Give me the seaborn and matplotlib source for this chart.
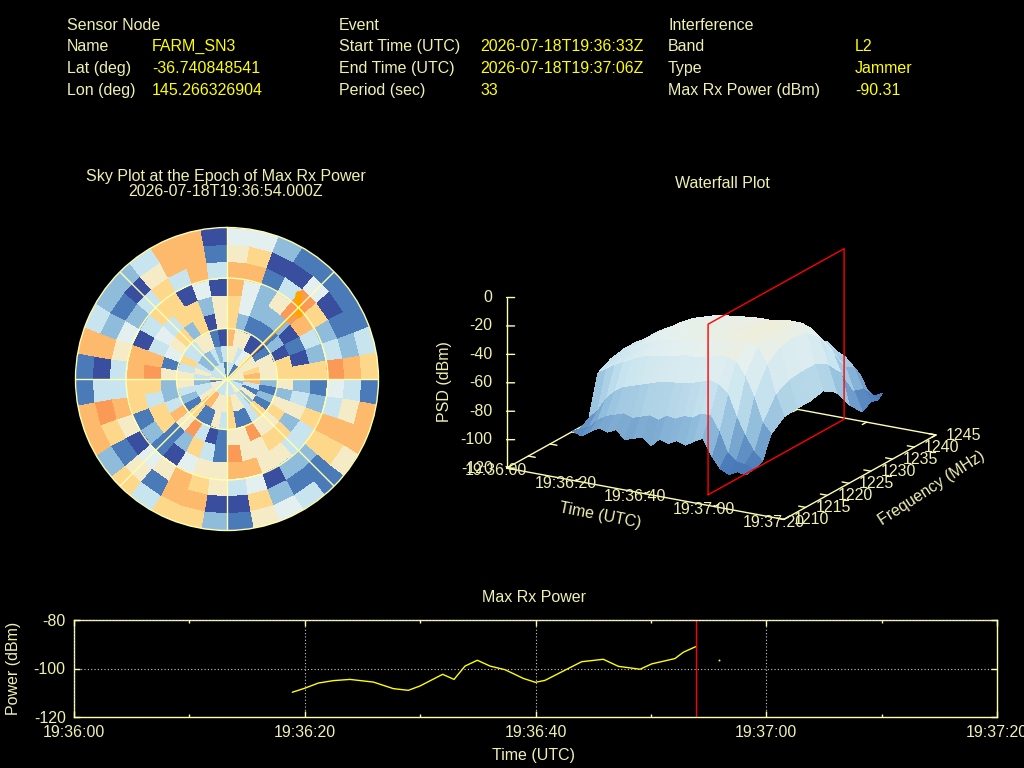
import numpy as np
import seaborn as sns
import matplotlib.pyplot as plt
from matplotlib.colors import Normalize

# Header block
sensor_labels = ['Sensor Node', 'Name', 'Lat (deg)', 'Lon (deg)']
sensor_values = ['', 'FARM_SN3', '-36.740848541', '145.266326904']
event_labels = ['Event', 'Start Time (UTC)', 'End Time (UTC)', 'Period (sec)']
event_values = ['', '2026-07-18T19:36:33Z', '2026-07-18T19:37:06Z', '33']
interf_labels = ['Interference', 'Band', 'Type', 'Max Rx Power (dBm)']
interf_values = ['', 'L2', 'Jammer', '-90.31']

# Sky plot bins, one string per 10 deg sector clockwise from north, centre to rim
sky_rows = [
    '357667754', '355244764', '335122102', '140125301', '150128841', '551207601',
    '555013211', '565602323', '575666876', '372521431', '231232357', '312556777',
    '351623665', '326563211', '533565213', '351855024', '351557465', '366587301',
    '453115502', '355035676', '351364776', '371820513', '376511456', '551762012',
    '432361567', '533236787', '125266331', '535587301', '353177577', '336430423',
    '323543212', '323636302', '325266653', '335660377', '321024777', '130550310',
]
sky_orange_az = [40.4, 42.3, 45.4, 48.2]
sky_orange_r = [6.6, 6.26, 6.0, 5.76]

# Waterfall surface, rows are time (s after 19:36:00), columns are frequency
wf_times = [15, 17.5, 20, 22.5, 25, 27.5, 30, 32.5, 35, 37.5, 40, 42.5, 45, 47.5, 50, 52.5, 55, 57.5, 60, 62.5, 65]
wf_freqs = [1213.3, 1215, 1217, 1219, 1222, 1225, 1228, 1231, 1234, 1237, 1240, 1242, 1243.5, 1244.6]
wf_psd = [
    [-93, -94, -90, -62, -57, -55, -55, -57, -60, -66, -78, -88, -95, -98],
    [-95, -92, -84, -58, -54, -52, -53, -54, -58, -63, -76, -86, -93, -97],
    [-91, -86, -74, -54, -50, -47, -47, -49, -53, -59, -72, -83, -92, -96],
    [-87, -82, -68, -51, -46, -43, -43, -45, -49, -55, -68, -80, -90, -95],
    [-89, -80, -64, -48, -42, -39, -40, -41, -45, -52, -65, -77, -89, -95],
    [-86, -78, -62, -45, -39, -36, -36, -38, -42, -48, -62, -75, -87, -94],
    [-92, -80, -60, -43, -37, -34, -34, -36, -40, -46, -60, -72, -86, -94],
    [-90, -78, -58, -42, -36, -33, -33, -35, -39, -45, -58, -70, -85, -93],
    [-88, -76, -56, -41, -35, -32, -32, -34, -38, -44, -56, -68, -84, -92],
    [-93, -78, -55, -40, -34, -31, -31, -33, -37, -44, -55, -66, -82, -92],
    [-87, -74, -54, -38, -33, -30, -30, -32, -37, -44, -55, -65, -80, -91],
    [-89, -75, -53, -38, -32, -30, -30, -32, -36, -45, -55, -64, -79, -90],
    [-86, -72, -52, -37, -31, -29, -29, -31, -36, -45, -55, -64, -78, -90],
    [-88, -72, -50, -36, -30, -28, -28, -30, -36, -46, -56, -63, -76, -88],
    [-84, -68, -48, -34, -29, -27, -27, -29, -36, -46, -56, -62, -75, -88],
    [-81, -68, -50, -34, -27, -25, -25, -28, -35, -46, -57, -62, -73, -88],
    [-92, -78, -55, -36, -27, -24, -24, -27, -34, -47, -64, -67, -74, -88],
    [-100, -92, -70, -45, -30, -27, -27, -29, -36, -50, -66, -70, -78, -90],
    [-103, -97, -82, -58, -40, -33, -31, -33, -41, -56, -72, -76, -84, -95],
    [-100, -98, -92, -75, -60, -55, -54, -54, -59, -70, -88, -90, -96, -100],
    [-101, -100, -98, -82, -75, -74, -74, -72, -78, -92, -102, -98, -100, -97],
]
wf_freq_ticks = [1210, 1215, 1220, 1225, 1230, 1235, 1240, 1245]
wf_psd_ticks = [0, -20, -40, -60, -80, -100, -120]
time_ticks = [0, 20, 40, 60, 80]
time_labels = ['19:36:00', '19:36:20', '19:36:40', '19:37:00', '19:37:20']
epoch_sec = 54
plane_freqs = [1213.3, 1244.6]

# Max Rx power trace
power_t = [18.92, 19.96, 21.18, 22.48, 23.92, 25.95, 27.68, 28.98, 29.99, 31.95, 32.94, 33.89, 34.96,
           36.06, 37.36, 38.95, 39.99, 40.82, 44.0, 45.88, 47.18, 49.06, 50.07, 52.09, 52.81, 53.88]
power_db = [-109.8, -108.2, -106.0, -105.0, -104.5, -105.6, -108.3, -109.0, -107.2, -102.4, -104.5, -99.0, -96.6,
            -99.0, -100.5, -104.1, -105.7, -104.9, -97.2, -96.2, -99.1, -100.3, -98.1, -95.9, -93.3, -91.0]
stray_t = [55.93]
stray_db = [-96.6]

CREAM = '#ffffb0'
TEXT = '#f0f0b0'
YELLOW = '#ffff00'
W, H = 1024, 768

sns.set_theme(style='dark', rc={'figure.facecolor': 'black', 'axes.facecolor': 'black',
                                'axes.edgecolor': CREAM, 'text.color': TEXT,
                                'xtick.color': TEXT, 'ytick.color': TEXT,
                                'axes.labelcolor': TEXT})
plt.rcParams['font.family'] = ['Liberation Sans', 'DejaVu Sans']
FS = 11.52

skymap = sns.blend_palette(['#3a4ea0', '#4a7ab8', '#8fbcdb', '#c8e4ef', '#e4f0f0', '#f5ecc8',
                            '#fdd98c', '#fdbb6e', '#fb9a57'], as_cmap=True)

fig = plt.figure(figsize=(W / 100, H / 100), dpi=100)


def box(x0, y0, x1, y1):
    # pixel box measured from the top left, turned into figure fractions
    return [x0 / W, 1 - y1 / H, (x1 - x0) / W, (y1 - y0) / H]


def label(x, y, s, **kw):
    kw.setdefault('fontsize', FS)
    kw.setdefault('va', 'center')
    fig.text(x / W, 1 - y / H, s, **kw)


# Header text
rows_y = [25.5, 46.5, 68.5, 90.5]
for xl, xv, labs, vals in [(67, 152, sensor_labels, sensor_values),
                           (339, 480, event_labels, event_values),
                           (668, 855, interf_labels, interf_values)]:
    for y, a, b in zip(rows_y, labs, vals):
        label(xl, y, a)
        label(xv, y, b, color=YELLOW)

label(226, 176, 'Sky Plot at the Epoch of Max Rx Power', ha='center')
label(226, 191, '2026-07-18T19:36:54.000Z', ha='center')
label(722, 183, 'Waterfall Plot', ha='center')
label(534, 597.5, 'Max Rx Power', ha='center')

# Sky plot
sky = fig.add_axes(box(75.5, 227.5, 378.5, 530.5), projection='polar')
sky.set_theta_zero_location('N')
sky.set_theta_direction(-1)
sky_grid = np.array([[int(c) for c in row] for row in sky_rows])
theta_edges = np.deg2rad(np.arange(0, 370, 10))
r_edges = np.arange(0, 10)
sky.pcolormesh(theta_edges, r_edges, sky_grid.T, cmap=skymap, vmin=0, vmax=8, shading='flat')
sky.plot([0, np.deg2rad(46)], [0, 5.8], color='#ffa500', lw=1)
sky.plot(np.deg2rad(sky_orange_az), sky_orange_r, color='#ffa500', lw=5, solid_capstyle='round')
sky.set_rlim(0, 9)
sky.set_rticks([3, 6])
sky.set_thetagrids(np.arange(0, 360, 45), labels=[])
sky.set_yticklabels([])
sky.grid(True, color=CREAM, lw=1)
sky.set_axisbelow(False)
sky.spines['polar'].set_color(CREAM)
sky.spines['polar'].set_linewidth(1)

# Waterfall, axis furniture is drawn by hand so it sits like the original
wf = fig.add_axes(box(464.5, 123, 964.5, 623), projection='3d', computed_zorder=False, facecolor='black')
wf.set_proj_type('ortho')
wf.view_init(elev=18.7, azim=-60)
wf.set_box_aspect((320, 304, 180), zoom=0.926)
wf.set_xlim(0, 80)
wf.set_ylim(1210, 1245)
wf.set_zlim(-120, 0)
wf.set_axis_off()

base_t = [0, 80, 80, 0, 0]
base_f = [1210, 1210, 1245, 1245, 1210]
wf.plot(base_t, base_f, [-120] * 5, color=CREAM, lw=1, zorder=1)
wf.plot([0, 0], [1210, 1210], [-120, 0], color=CREAM, lw=1, zorder=1)
for z in wf_psd_ticks:
    wf.plot([0, 1.74], [1210, 1210.46], [z, z], color=CREAM, lw=1, zorder=1)
    wf.text(-3.0, 1209.2, z, str(z), ha='right', va='center', fontsize=FS, color=TEXT)
for t, s in zip(time_ticks, time_labels):
    wf.plot([t, t], [1210, 1211], [-120, -120], color=CREAM, lw=1, zorder=1)
    wf.plot([t, t], [1245, 1244], [-120, -120], color=CREAM, lw=1, zorder=1)
    wf.text(t - 2.2, 1209.4, -122.0, s, ha='center', va='center', fontsize=FS, color=TEXT)
for f in wf_freq_ticks:
    wf.plot([0, 2], [f, f], [-120, -120], color=CREAM, lw=1, zorder=1)
    wf.plot([80, 78], [f, f], [-120, -120], color=CREAM, lw=1, zorder=1)
    wf.text(86, f + 1.57, -120, str(f), ha='center', va='center', fontsize=FS, color=TEXT)

T, F = np.meshgrid(wf_times, wf_freqs, indexing='ij')
Z = np.array(wf_psd, dtype=float)
# colour each facet by the mean of its four corners
Z_cell = (Z[:-1, :-1] + Z[1:, :-1] + Z[:-1, 1:] + Z[1:, 1:]) / 4
wf.plot_surface(T, F, Z, facecolors=skymap(Normalize(-120, 47)(Z_cell)), rstride=1, cstride=1,
                shade=False, linewidth=0, antialiased=False, zorder=2)

# Red slice at the epoch of max power
pf0, pf1 = plane_freqs
wf.plot([epoch_sec] * 5, [pf0, pf1, pf1, pf0, pf0], [-120, -120, 0, 0, -120], color='red', lw=1, zorder=3)

label(445, 382, 'PSD (dBm)', ha='center', rotation=90)
label(600, 516, 'Time (UTC)', ha='center', rotation=-11, rotation_mode='anchor')
label(932, 488, 'Frequency (MHz)', ha='center', rotation=33, rotation_mode='anchor')

# Power trace
ax = fig.add_axes(box(74, 620, 997, 717))
sns.lineplot(x=power_t, y=power_db, color='#ffff00', lw=1, ax=ax, errorbar=None, sort=False)
sns.scatterplot(x=stray_t, y=stray_db, color='#ffff00', s=2, linewidth=0, ax=ax)
ax.axvline(epoch_sec - 0.05, color='red', lw=1)
ax.set_xlim(0, 80)
ax.set_ylim(-120, -80)
ax.set_xticks(time_ticks)
ax.set_xticklabels(time_labels, fontsize=FS)
ax.set_xticks([10, 30, 50, 70], minor=True)
ax.set_yticks([-120, -100, -80])
ax.set_yticklabels(['-120', '-100', '-80'], fontsize=FS)
ax.tick_params(which='major', length=4, width=1, color=CREAM, direction='in', top=True, right=True, bottom=True, left=True, pad=6)
ax.tick_params(which='minor', length=2.5, width=1, color=CREAM, direction='in', top=True, bottom=True)
ax.grid(True, which='major', color='#cccccc', ls=(0, (1, 2)), lw=0.8)
ax.set_axisbelow(False)
for s in ax.spines.values():
    s.set_color(CREAM)
    s.set_linewidth(1)
    s.set_visible(True)
label(14, 668, 'Power (dBm)', ha='center', rotation=90)
label(534, 755.5, 'Time (UTC)', ha='center')

fig.savefig('out.png', dpi=100, facecolor='black')
